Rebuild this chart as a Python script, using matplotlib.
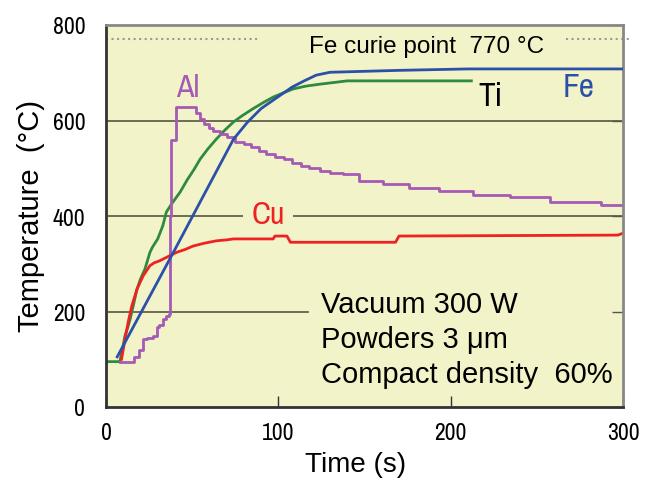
import matplotlib
matplotlib.use("Agg")
import matplotlib.pyplot as plt
from matplotlib import font_manager

# ---- data ----
fe_t = [6.5, 40, 74, 82, 90, 100, 108, 115, 122, 130, 170, 210, 300]
fe_T = [105, 330, 561, 596, 625, 650, 670, 683, 695, 701, 705, 708, 708]

ti_t = [0, 8, 9.5, 11, 12.5, 14, 16, 18, 20, 22.6,
        25.5, 27, 30, 33, 35, 38, 43, 47, 51, 54.6,
        59, 64, 69, 74, 79, 85, 91, 97, 103, 108.5,
        116, 124, 140, 212]
ti_T = [95, 95, 120, 149, 165, 184, 215, 247, 268, 289,
        324, 335, 352, 380, 408, 425, 450, 475, 497, 519,
        540, 561, 580, 597, 610, 624, 637, 649, 658, 666,
        672, 676, 683, 683]

al_t = [8, 14, 16, 19, 21.6, 24, 27, 29.5, 31, 33,
        35, 36.5, 37.2, 38, 40.5, 50.7, 52.5, 54.6, 57, 60,
        62, 66, 70, 75, 80, 84, 89, 93, 98, 103,
        108, 113, 118, 124, 130, 137.5, 147, 161, 176, 193,
        213, 234.5, 257.7, 287, 300]
al_T = [95, 95, 105, 120, 142, 145, 149, 167, 172, 184,
        191, 195, 400, 560, 628, 628, 615, 603, 592, 585,
        578, 572, 565, 556, 550, 544, 537, 530, 524, 519,
        512, 505, 500, 494, 490, 488, 474, 467, 458, 452,
        444, 439, 430, 423, 423]

cu_t = [9, 10, 11, 13, 15, 18, 21.6, 25.5, 28, 31,
        36, 41, 46, 50.5, 57, 64, 70, 74, 97, 98, 105,
        107, 168, 170, 297, 300]
cu_T = [100, 120, 142, 180, 212, 247, 275, 296, 302, 306,
        315, 324, 330, 337, 343, 348, 350, 352, 352, 358, 358,
        345, 345, 358, 360, 364]

curie_T = 770
x_ticks = [0, 100, 200, 300]
y_ticks = [0, 200, 400, 600, 800]
conditions = ["Vacuum 300 W", "Powders 3 μm", "Compact density  60%"]

# ---- style ----
names = sorted({f.name for f in font_manager.fontManager.ttflist})
narrow = [n for n in names if "Narrow" in n or "Condensed" in n]
NARROW = narrow[0] if narrow else "Liberation Sans"
plt.rcParams["font.family"] = ["Liberation Sans", "DejaVu Sans"]

BG = "#f3f3c9"
C_FE = "#2b50a8"
C_TI = "#2e8a3c"
C_AL = "#a55ab4"
C_CU = "#ee2222"
GRID = "#55553f"

fig = plt.figure(figsize=(6.54, 4.89), dpi=100)
ax = fig.add_axes([106 / 654, 81 / 489, 517 / 654, 382 / 489])
ax.set_facecolor(BG)
ax.set_xlim(0, 300)
ax.set_ylim(0, 800)

# grid lines (the 200 line stops at the conditions block)
ax.axhline(200, xmax=0.39, color=GRID, lw=1.2, zorder=1)
for yv in (400, 600):
    ax.axhline(yv, color=GRID, lw=1.2, zorder=1)

# Fe curie point dotted reference
ax.plot([0, 89], [curie_T, curie_T], ls=":", color="#999999", lw=1.5, zorder=1)
ax.plot([267, 304], [curie_T, curie_T], ls=":", color="#999999", lw=1.5,
        zorder=1, clip_on=False)
ax.text(118, 757, "Fe curie point  770 °C", fontsize=17.5, va="center", ha="left")

lw = 2.0
ax.plot(ti_t, ti_T, color=C_TI, lw=lw, zorder=2)
ax.plot(al_t, al_T, color=C_AL, lw=lw, drawstyle="steps-post", zorder=2)
ax.plot(cu_t, cu_T, color=C_CU, lw=lw, zorder=2)
ax.plot(fe_t, fe_T, color=C_FE, lw=lw, zorder=3)

ax.text(47.5, 670, "Al", color=C_AL, fontsize=23, family=NARROW,
        fontweight="medium", ha="center", va="center")
ax.text(94, 405, "Cu", color=C_CU, fontsize=23, family=NARROW,
        fontweight="medium", ha="center", va="center", zorder=1.5,
        bbox=dict(boxstyle="square,pad=0.25", fc=BG, ec="none"))
ax.text(223, 651, "Ti", color="black", fontsize=24, family=NARROW,
        ha="center", va="center")
ax.text(274, 670, "Fe", color=C_FE, fontsize=24, family=NARROW,
        ha="center", va="center")

for txt, yb in zip(conditions, [199, 126, 52]):
    ax.text(124.5, yb, txt, fontsize=21, ha="left", va="baseline")

# axes frame
for side in ("left", "bottom"):
    ax.spines[side].set_color("#333333")
    ax.spines[side].set_linewidth(2)
for side in ("top", "right"):
    ax.spines[side].set_color("#888888")
    ax.spines[side].set_linewidth(2)

ax.set_xticks(x_ticks)
ax.set_yticks(y_ticks)
ax.tick_params(axis="x", direction="in", length=8, width=1, color="#333333",
               pad=11, labelsize=17)
ax.tick_params(axis="y", direction="in", left=False, right=True, length=8,
               width=1, color="#555555", pad=15, labelsize=17)
for lab in ax.get_xticklabels() + ax.get_yticklabels():
    lab.set_family(NARROW)

ax.set_xlabel("Time (s)", fontsize=20)
ax.xaxis.set_label_coords(0.482, -0.115)
ax.set_ylabel("Temperature  (°C)", fontsize=21)
ax.yaxis.set_label_coords(-0.118, 0.503)

fig.savefig("out.png", dpi=100)
